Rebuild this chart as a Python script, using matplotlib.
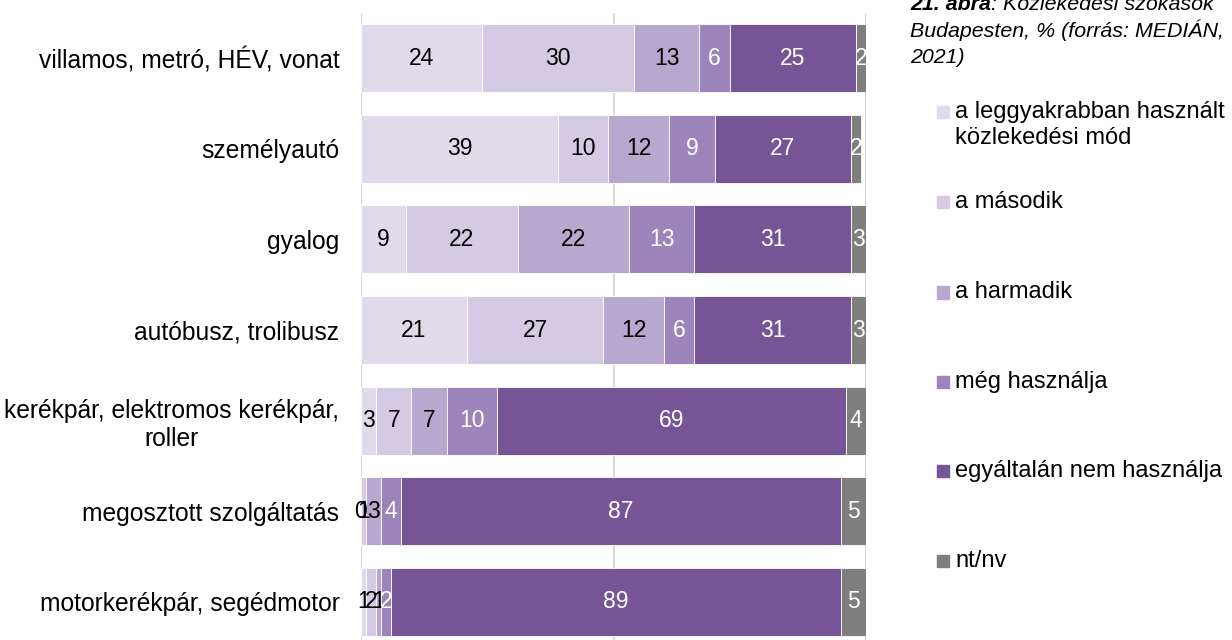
import matplotlib
matplotlib.use('Agg')
import matplotlib.pyplot as plt
from matplotlib.patches import Rectangle
import numpy as np

plt.rcParams['font.family'] = ['Liberation Sans', 'DejaVu Sans']

categories = [
    'villamos, metró, HÉV, vonat',
    'személyautó',
    'gyalog',
    'autóbusz, trolibusz',
    'kerékpár, elektromos kerékpár,\nroller',
    'megosztott szolgáltatás',
    'motorkerékpár, segédmotor',
]
series_names = [
    'a leggyakrabban használt\nközlekedési mód',
    'a második',
    'a harmadik',
    'még használja',
    'egyáltalán nem használja',
    'nt/nv',
]
leggyakrabban = [24, 39, 9, 21, 3, 0, 1]
masodik = [30, 10, 22, 27, 7, 1, 2]
harmadik = [13, 12, 22, 12, 7, 3, 1]
meg_hasznalja = [6, 9, 13, 6, 10, 4, 2]
nem_hasznalja = [25, 27, 31, 31, 69, 87, 89]
ntnv = [2, 2, 3, 3, 4, 5, 5]

colors = ['#E0DAEB', '#D4CAE3', '#B8A7CF', '#9D85BB', '#765597', '#7F7F7F']
text_colors = ['black', 'black', 'black', 'white', 'white', 'white']

series = [leggyakrabban, masodik, harmadik, meg_hasznalja, nem_hasznalja, ntnv]

fig = plt.figure(figsize=(12.32, 6.4), dpi=100)
ax = fig.add_axes([0.293, 0.0, 0.410, 0.980])

y = np.arange(len(categories))
left = np.zeros(len(categories))
for vals, col, tc in zip(series, colors, text_colors):
    vals = np.array(vals, dtype=float)
    ax.barh(y, vals, left=left, height=0.75, color=col,
            edgecolor='white', linewidth=0.6, zorder=3)
    for yi, v, l in zip(y, vals, left):
        ax.text(l + v / 2, yi, f'{int(v)}', ha='center', va='center',
                color=tc, fontsize=16.5, zorder=4)
    left += vals

ax.set_xlim(0, 100)
ax.set_ylim(6.42, -0.5)
ax.set_yticks(y)
ax.set_yticklabels(categories, fontsize=17.7)
for lab in ax.get_yticklabels():
    lab.set_multialignment('center')
ax.tick_params(axis='y', length=0, pad=15.5)
ax.set_xticks([0, 50, 100])
ax.tick_params(axis='x', length=0, labelbottom=False)
ax.grid(axis='x', color='#D9D9D9', linewidth=1.5, zorder=0)
for s in ax.spines.values():
    s.set_visible(False)

# title, top right (first line partly cut off like the reference)
tx = 0.7386
t1 = fig.text(tx, 0.984, '21. ábra', fontsize=15.4, style='italic',
              fontweight='bold', va='baseline', ha='left')
fig.canvas.draw()
bb = t1.get_window_extent()
fig.text(bb.x1 / fig.bbox.width, 0.984, ': Közlekedési szokások', fontsize=15.4,
         style='italic', va='baseline', ha='left')
fig.text(tx, 0.984 - 0.0415, 'Budapesten, % (forrás: MEDIÁN,', fontsize=15.4,
         style='italic', va='baseline', ha='left')
fig.text(tx, 0.984 - 0.083, '2021)', fontsize=15.4,
         style='italic', va='baseline', ha='left')

# legend drawn by hand
leg_y = [0.825, 0.684, 0.543, 0.403, 0.264, 0.123]
for name, col, yy in zip(series_names, colors, leg_y):
    fig.add_artist(Rectangle((0.7605, yy - 0.0095), 0.0097, 0.019,
                             transform=fig.transFigure, color=col))
    for i, line in enumerate(name.split('\n')):
        fig.text(0.7755, yy - i * 0.041, line, fontsize=17, va='center', ha='left')

fig.savefig('out.png', dpi=100)
